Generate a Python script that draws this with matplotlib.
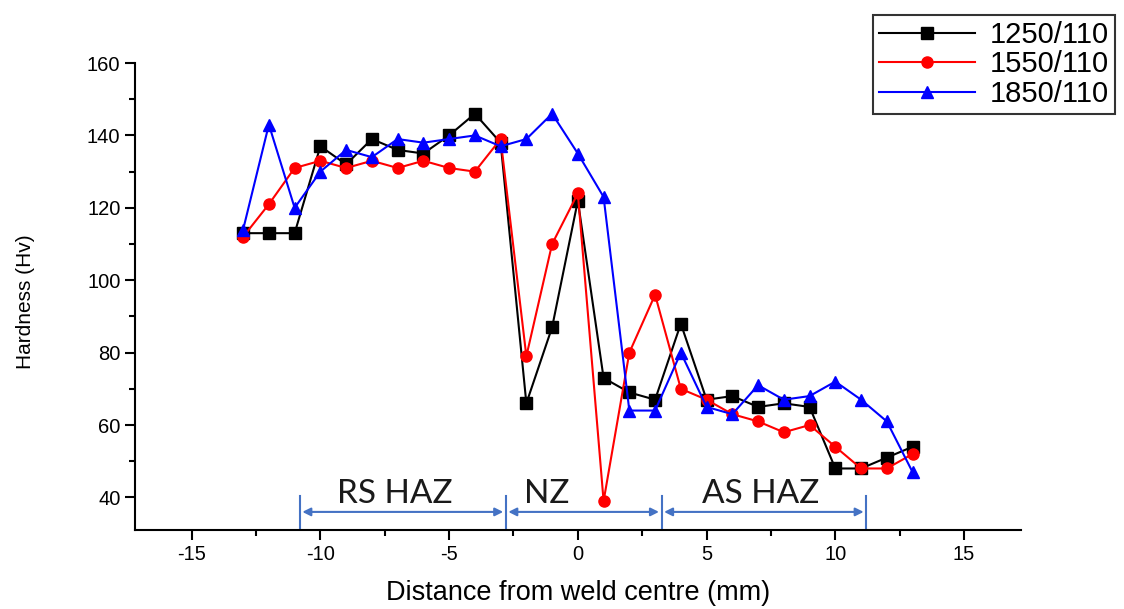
import numpy as np
import matplotlib
matplotlib.use("Agg")
import matplotlib.pyplot as plt
from matplotlib.ticker import MultipleLocator

# distance from weld centre (mm)
dist = [-13, -12, -11, -10, -9, -8, -7, -6, -5, -4, -3, -2, -1, 0,
        1, 2, 3, 4, 5, 6, 7, 8, 9, 10, 11, 12, 13]

h_1250 = [113, 113, 113, 137, 132, 139, 136, 135, 140, 146, 138, 66, 87, 122,
          73, 69, 67, 88, 67, 68, 65, 66, 65, 48, 48, 51, 54]
h_1550 = [112, 121, 131, 133, 131, 133, 131, 133, 131, 130, 139, 79, 110, 124,
          39, 80, 96, 70, 67, 63, 61, 58, 60, 54, 48, 48, 52]
h_1850 = [114, 143, 120, 130, 136, 134, 139, 138, 139, 140, 137, 139, 146, 135,
          123, 64, 64, 80, 65, 63, 71, 67, 68, 72, 67, 61, 47]

labels = ["1250/110", "1550/110", "1850/110"]

# zone boundaries and names
zone_edges = [-10.8, -2.8, 3.25, 11.2]
zone_names = ["RS HAZ", "NZ", "AS HAZ"]
zone_text_x = [-7.1, -1.2, 7.1]

plt.rcParams['font.family'] = ['Liberation Sans', 'DejaVu Sans']
plt.rcParams['axes.unicode_minus'] = False

fig = plt.figure(figsize=(11.24, 6.09), dpi=100)
ax = fig.add_axes([0.1201, 0.1297, 0.788, 0.7668])

ax.plot(dist, h_1250, '-s', color='black', ms=8, lw=1.5, label=labels[0])
ax.plot(dist, h_1550, '-o', color='red', ms=8, lw=1.5, label=labels[1])
ax.plot(dist, h_1850, '-^', color='blue', ms=9, lw=1.5, label=labels[2])

# zone arrows
zc = '#4472C4'
for x in zone_edges:
    ax.plot([x, x], [31.2, 40.5], color=zc, lw=1.5, clip_on=False)
for i in range(3):
    ax.annotate('', xy=(zone_edges[i + 1] - 0.1, 36), xytext=(zone_edges[i] + 0.1, 36),
                arrowprops=dict(arrowstyle='<|-|>', color=zc, lw=1.5, mutation_scale=12,
                                shrinkA=0, shrinkB=0))
    ax.text(zone_text_x[i], 36.8, zone_names[i], ha='center', va='bottom', fontsize=24,
            family=['Lato', 'DejaVu Sans'], color='#1a1a1a')

ax.set_xlim(-17.2, 17.2)
ax.set_ylim(31, 160)
ax.xaxis.set_minor_locator(MultipleLocator(2.5))
ax.yaxis.set_minor_locator(MultipleLocator(10))
ax.set_xticks([-15, -10, -5, 0, 5, 10, 15])
ax.set_yticks([40, 60, 80, 100, 120, 140, 160])

for s in ['top', 'right']:
    ax.spines[s].set_visible(False)
for s in ['left', 'bottom']:
    ax.spines[s].set_linewidth(1.5)
ax.tick_params(which='major', length=7, width=1.5, labelsize=14.5)
ax.tick_params(which='minor', length=4, width=1.5)

ax.set_xlabel('Distance from weld centre (mm)', fontsize=19.5)
ax.xaxis.set_label_coords(0.5, -0.135)
ax.xaxis.label.set_va('center')
ax.set_ylabel('Hardness (Hv)', fontsize=15)
ax.yaxis.set_label_coords(-0.124, 0.49)
ax.yaxis.label.set_va('center')

leg = fig.legend(loc='upper right', bbox_to_anchor=(0.997, 0.985), fontsize=21,
                 handlelength=3.3, frameon=True, fancybox=False, edgecolor='black',
                 borderpad=0.2, labelspacing=0.05, handletextpad=0.5, borderaxespad=0.2)
leg.get_frame().set_linewidth(1.5)

fig.savefig('out.png', dpi=100)
